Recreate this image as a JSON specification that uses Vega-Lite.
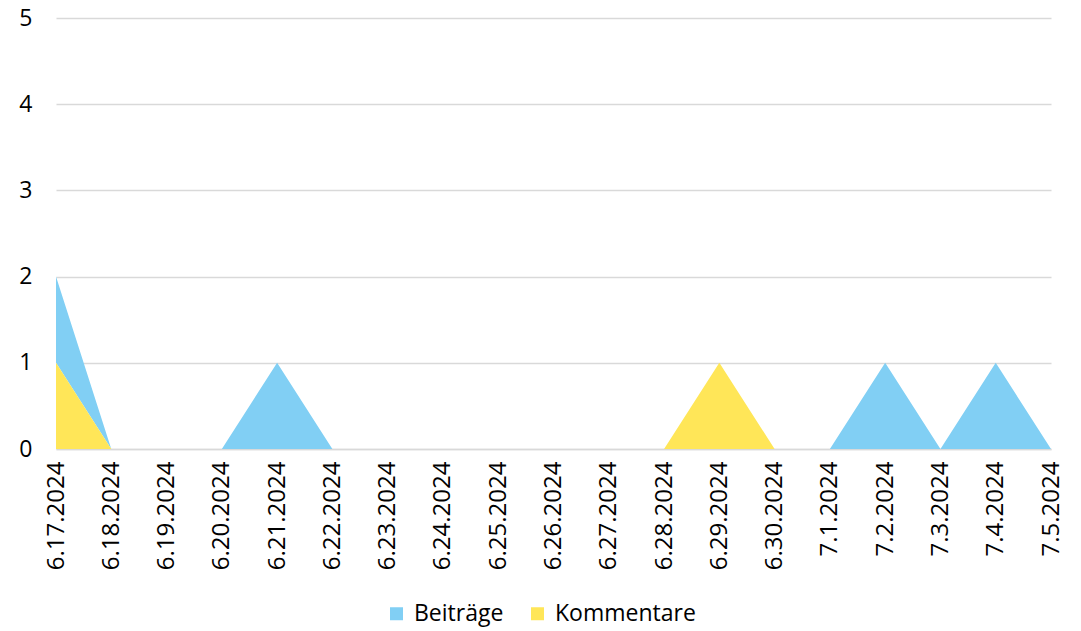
{
  "$schema": "https://vega.github.io/schema/vega-lite/v6.json",
  "width": 995,
  "height": 431,
  "autosize": {"type": "none"},
  "padding": {"left": 56, "top": 18, "right": 30, "bottom": 182},
  "background": "white",
  "config": {
    "view": {"stroke": null},
    "font": "Open Sans",
    "axis": {"labelFont": "Open Sans", "labelColor": "#000000"},
    "legend": {"labelFont": "Open Sans"}
  },
  "data": {
    "values": [
      {"date": "6.17.2024", "series": "Beiträge", "value": 1},
      {"date": "6.18.2024", "series": "Beiträge", "value": 0},
      {"date": "6.19.2024", "series": "Beiträge", "value": 0},
      {"date": "6.20.2024", "series": "Beiträge", "value": 0},
      {"date": "6.21.2024", "series": "Beiträge", "value": 1},
      {"date": "6.22.2024", "series": "Beiträge", "value": 0},
      {"date": "6.23.2024", "series": "Beiträge", "value": 0},
      {"date": "6.24.2024", "series": "Beiträge", "value": 0},
      {"date": "6.25.2024", "series": "Beiträge", "value": 0},
      {"date": "6.26.2024", "series": "Beiträge", "value": 0},
      {"date": "6.27.2024", "series": "Beiträge", "value": 0},
      {"date": "6.28.2024", "series": "Beiträge", "value": 0},
      {"date": "6.29.2024", "series": "Beiträge", "value": 0},
      {"date": "6.30.2024", "series": "Beiträge", "value": 0},
      {"date": "7.1.2024", "series": "Beiträge", "value": 0},
      {"date": "7.2.2024", "series": "Beiträge", "value": 1},
      {"date": "7.3.2024", "series": "Beiträge", "value": 0},
      {"date": "7.4.2024", "series": "Beiträge", "value": 1},
      {"date": "7.5.2024", "series": "Beiträge", "value": 0},
      {"date": "6.17.2024", "series": "Kommentare", "value": 1},
      {"date": "6.18.2024", "series": "Kommentare", "value": 0},
      {"date": "6.19.2024", "series": "Kommentare", "value": 0},
      {"date": "6.20.2024", "series": "Kommentare", "value": 0},
      {"date": "6.21.2024", "series": "Kommentare", "value": 0},
      {"date": "6.22.2024", "series": "Kommentare", "value": 0},
      {"date": "6.23.2024", "series": "Kommentare", "value": 0},
      {"date": "6.24.2024", "series": "Kommentare", "value": 0},
      {"date": "6.25.2024", "series": "Kommentare", "value": 0},
      {"date": "6.26.2024", "series": "Kommentare", "value": 0},
      {"date": "6.27.2024", "series": "Kommentare", "value": 0},
      {"date": "6.28.2024", "series": "Kommentare", "value": 0},
      {"date": "6.29.2024", "series": "Kommentare", "value": 1},
      {"date": "6.30.2024", "series": "Kommentare", "value": 0},
      {"date": "7.1.2024", "series": "Kommentare", "value": 0},
      {"date": "7.2.2024", "series": "Kommentare", "value": 0},
      {"date": "7.3.2024", "series": "Kommentare", "value": 0},
      {"date": "7.4.2024", "series": "Kommentare", "value": 0},
      {"date": "7.5.2024", "series": "Kommentare", "value": 0}
    ]
  },
  "mark": {"type": "area", "interpolate": "linear", "opacity": 1},
  "encoding": {
    "x": {
      "field": "date",
      "type": "ordinal",
      "sort": null,
      "scale": {"type": "point", "padding": 0},
      "axis": {
        "title": null,
        "labelAngle": -90,
        "labelAlign": "right",
        "labelBaseline": "middle",
        "labelFontSize": 24,
        "labelPadding": 12,
        "ticks": false,
        "domain": true,
        "domainColor": "#d9d9d9",
        "domainWidth": 1.5,
        "grid": false
      }
    },
    "y": {
      "field": "value",
      "type": "quantitative",
      "stack": "zero",
      "scale": {"domain": [0, 5], "nice": false},
      "axis": {
        "title": null,
        "values": [0, 1, 2, 3, 4, 5],
        "labelFontSize": 23,
        "labelPadding": 24,
        "ticks": false,
        "domain": false,
        "grid": true,
        "gridColor": "#d9d9d9",
        "gridWidth": 1.5
      }
    },
    "color": {
      "field": "series",
      "type": "nominal",
      "scale": {"domain": ["Beiträge", "Kommentare"], "range": ["#81CFF4", "#FFE658"]},
      "legend": {
        "title": null,
        "orient": "none",
        "legendX": 329,
        "legendY": 584,
        "direction": "horizontal",
        "symbolType": "square",
        "symbolSize": 169,
        "symbolStrokeWidth": 0,
        "labelFontSize": 23,
        "labelColor": "#000000",
        "columnPadding": 22,
        "labelOffset": 6
      }
    },
    "order": {"field": "series", "sort": "descending"}
  }
}
